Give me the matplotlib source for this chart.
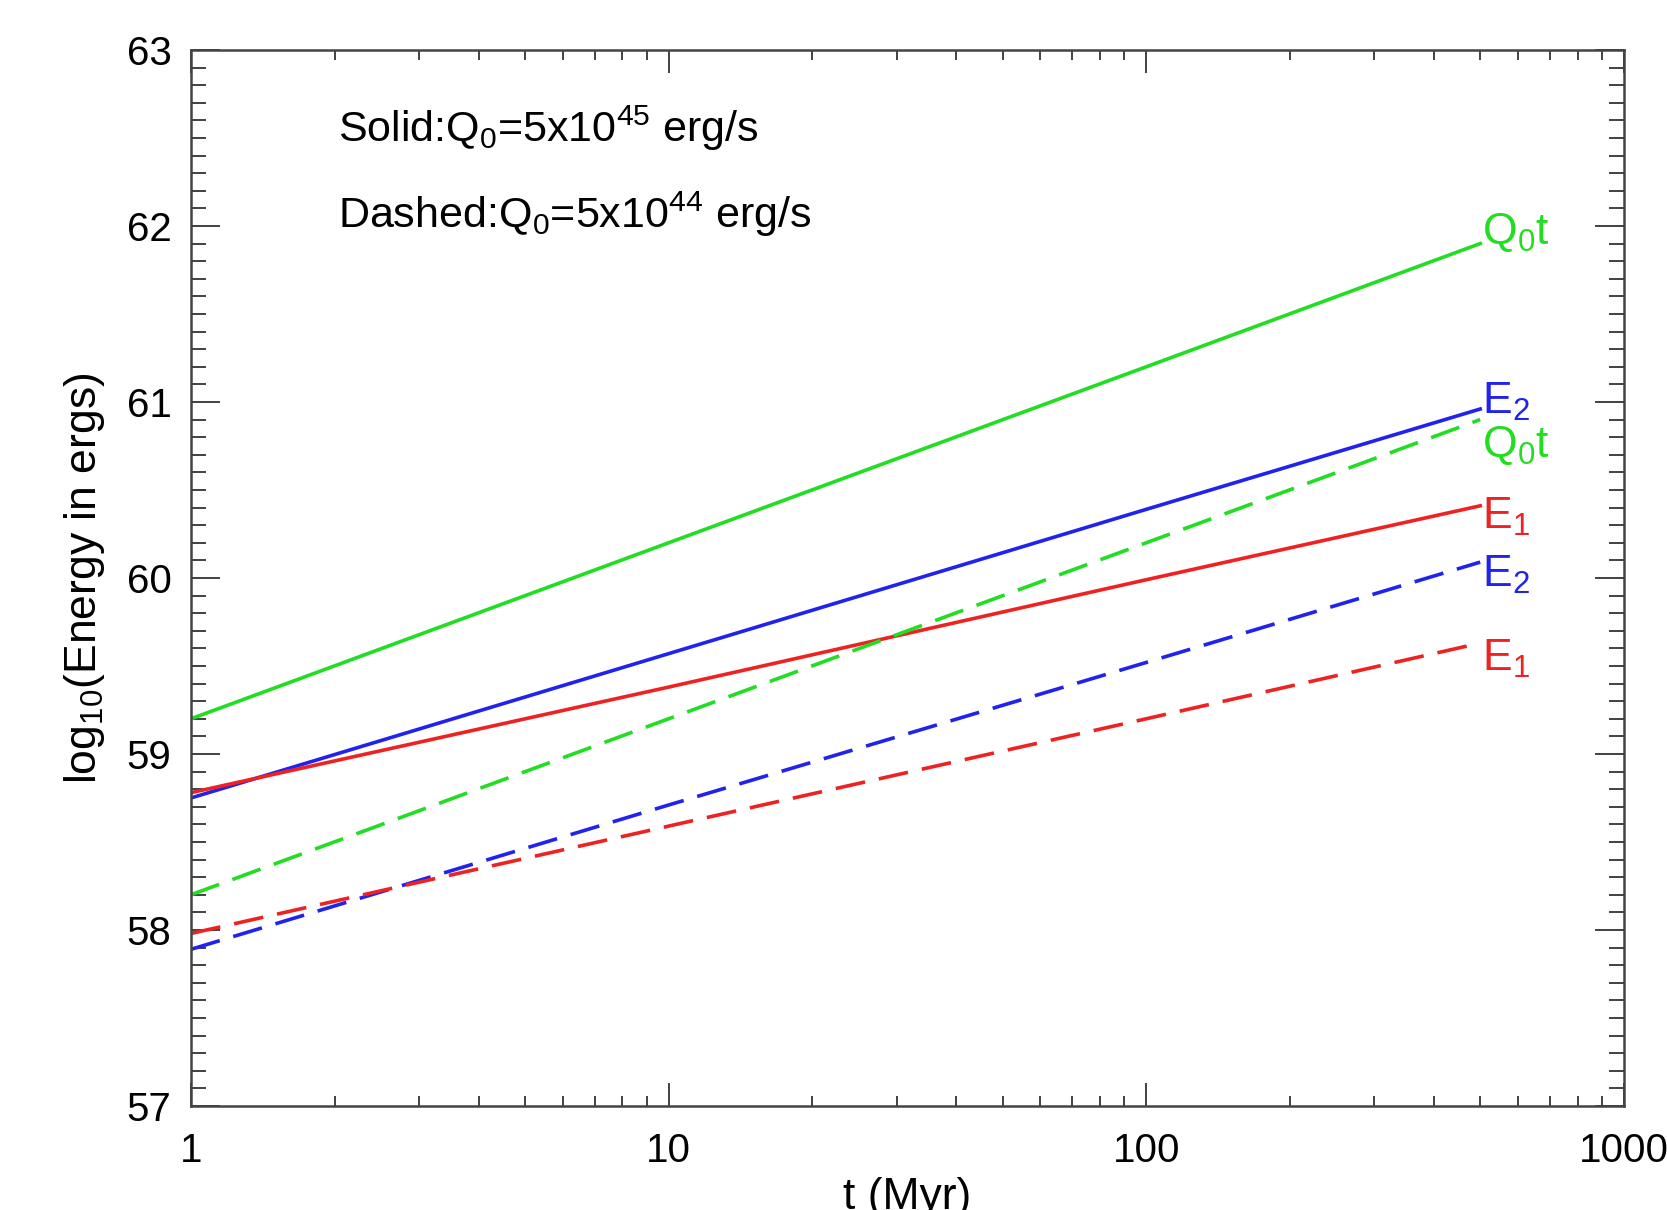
import numpy as np
import matplotlib
matplotlib.use('Agg')
import matplotlib.pyplot as plt
from matplotlib.ticker import LogLocator, MultipleLocator, NullFormatter, FixedLocator

plt.rcParams['font.family'] = ['Liberation Sans', 'DejaVu Sans']
plt.rcParams['mathtext.fontset'] = 'custom'
plt.rcParams['mathtext.rm'] = 'Liberation Sans'
plt.rcParams['mathtext.it'] = 'Liberation Sans'

# time in Myr and log10 energy (ergs)
t = [1, 10, 100, 500]
q0t_solid = [59.20, 60.20, 61.20, 61.90]
e2_solid = [58.75, 59.57, 60.39, 60.96]
e1_solid = [58.78, 59.38, 59.99, 60.41]
q0t_dashed = [58.20, 59.20, 60.20, 60.90]
e2_dashed = [57.89, 58.71, 59.52, 60.09]
e1_dashed = [57.98, 58.59, 59.20, 59.63]

end_labels = [r'Q$_0$t', r'E$_2$', r'E$_1$', r'Q$_0$t', r'E$_2$', r'E$_1$']
label_y = [61.90, 60.93, 60.28, 60.69, 59.95, 59.47]

green = '#22dd22'
blue = '#2222ee'
red = '#ee2222'

fig = plt.figure(figsize=(16.67, 12.10), dpi=100)
ax = fig.add_axes([0.1146, 0.086, 0.8596, 0.8727])

lw = 2.6
dash = (8.3, 3.9)
ax.plot(t, q0t_solid, color=green, lw=lw)
ax.plot(t, e2_solid, color=blue, lw=lw)
ax.plot(t, e1_solid, color=red, lw=lw)
ax.plot(t, q0t_dashed, color=green, lw=lw, dashes=dash)
ax.plot(t, e2_dashed, color=blue, lw=lw, dashes=dash)
ax.plot(t, e1_dashed, color=red, lw=lw, dashes=dash)

colors = [green, blue, red, green, blue, red]
for lab, y, c in zip(end_labels, label_y, colors):
    ax.text(505, y, lab, color=c, fontsize=32, va='baseline', ha='left')

ax.text(0.1024, 0.913, r'Solid:Q$_0$=5x10$^{45}$ erg/s', transform=ax.transAxes,
        fontsize=31, va='baseline')
ax.text(0.1024, 0.831, r'Dashed:Q$_0$=5x10$^{44}$ erg/s', transform=ax.transAxes,
        fontsize=31, va='baseline')

ax.set_xscale('log')
ax.set_xlim(1, 1000)
ax.set_ylim(57, 63)
ax.xaxis.set_major_locator(FixedLocator([1, 10, 100, 1000]))
ax.set_xticklabels(['1', '10', '100', '1000'])
ax.xaxis.set_minor_locator(LogLocator(base=10, subs=np.arange(2, 10)))
ax.xaxis.set_minor_formatter(NullFormatter())
ax.yaxis.set_major_locator(MultipleLocator(1))
ax.yaxis.set_minor_locator(MultipleLocator(0.1))

ax.tick_params(which='both', direction='in', top=True, right=True, width=1.3, colors='#333333')
ax.tick_params(axis='x', which='major', length=16.5, pad=19, labelsize=29, labelcolor='black')
ax.tick_params(axis='x', which='minor', length=7)
ax.tick_params(axis='y', which='major', length=21, pad=14, labelsize=29, labelcolor='black')
ax.tick_params(axis='y', which='minor', length=11)
for s in ax.spines.values():
    s.set_linewidth(1.8)
    s.set_color('#444444')

ax.set_xlabel('t (Myr)', fontsize=32, labelpad=5)
ax.set_ylabel(r'log$_{10}$(Energy in ergs)', fontsize=32, labelpad=14)

plt.savefig('out.png', dpi=100)
